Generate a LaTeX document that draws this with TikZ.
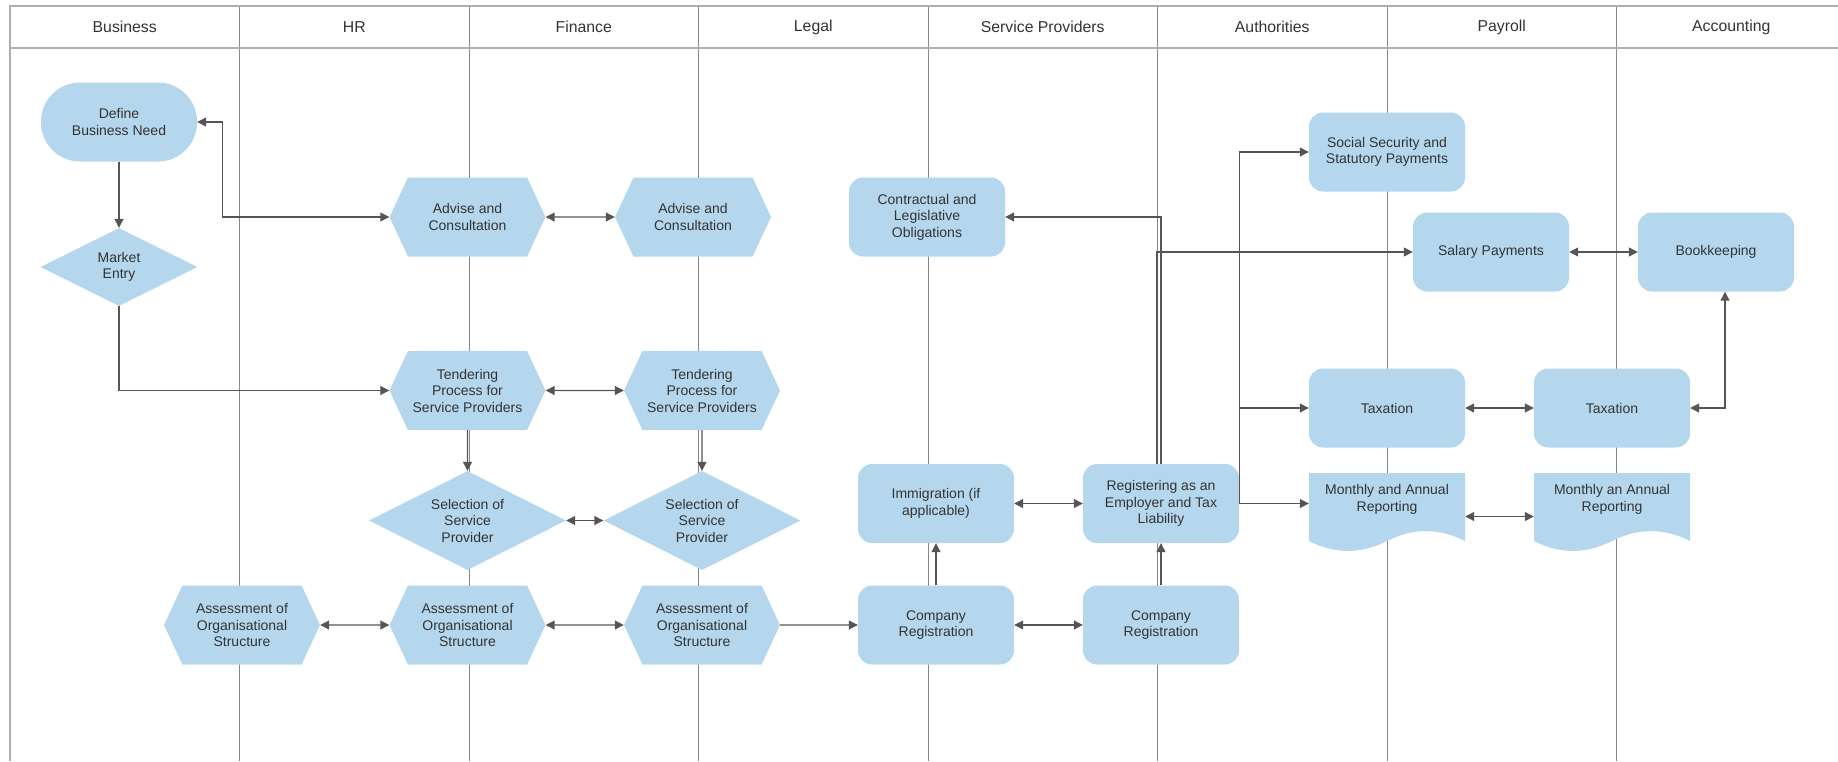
\documentclass[tikz,border=0pt]{standalone}
\usepackage{fontspec}
\setmainfont{Liberation Sans}
\definecolor{laneBlue}{RGB}{181,215,238}
\definecolor{laneText}{RGB}{51,51,51}
\definecolor{laneLine}{RGB}{135,135,135}
\definecolor{laneFrame}{RGB}{175,175,175}
\definecolor{laneArrow}{RGB}{85,85,85}
\usetikzlibrary{arrows.meta,positioning,shapes.geometric,shapes.symbols,calc}
\newcommand{\docsink}{\rule[-29pt]{0pt}{29pt}}

\begin{document}
\begin{tikzpicture}[x=1pt, y=-1pt,
  base/.style={fill=laneBlue, text=laneText, align=center, inner sep=3pt,
               font=\fontsize{14}{16.5}\selectfont},
  rbox/.style={base, rectangle, rounded corners=14pt, minimum width=156pt,
               minimum height=79pt},
  pill/.style={base, rectangle, rounded corners=39pt, minimum width=156pt,
               minimum height=79pt},
  hexa/.style={base, signal, signal to=east and west, signal pointer angle=130,
               minimum width=156pt, minimum height=79pt},
  dia/.style={base, diamond, aspect=2, inner sep=0pt},
  docbox/.style={base, fill=none, rectangle, minimum width=156pt, minimum height=79pt,
    path picture={\fill[laneBlue] (path picture bounding box.north west) -- ++(156,0) -- ++(0,68)
      .. controls +(-26,-13.2) and +(26,-13.2) .. ++(-78,0)
      .. controls +(-26,13.2) and +(26,13.2) .. ++(-78,0) -- cycle;}},
  hdr/.style={text=laneText, font=\fontsize{15.8}{18}\selectfont},
  lane/.style={laneLine, line width=1pt},
  frame/.style={laneFrame, line width=2pt},
  arr/.style={-{Triangle[length=9pt,width=9pt]}, laneArrow, line width=1.1pt},
  dbl/.style={{Triangle[length=9pt,width=9pt]}-{Triangle[length=9pt,width=9pt]},
              laneArrow, line width=1.1pt}
]
  \useasboundingbox (0,0) rectangle (1838,761);

  % swimlanes
  \foreach \i in {1,...,7}
    \draw[lane] ({10+229.5*\i},6) -- ({10+229.5*\i},761);
  \draw[frame] (10,761) -- (10,6) -- (1838,6);
  \draw[frame] (10,47.5) -- (1838,47.5);
  \foreach \lab [count=\i from 0] in {Business,HR,Finance,Legal,Service Providers,
                                       Authorities,Payroll,Accounting}
    \node[hdr] (h\i) at ({10+229.5*(\i+0.5)},27) {\lab};

  % steps
  \node[pill] (def) at (119,122) {Define\\Business Need};
  \node[dia, minimum width=157pt, minimum height=78pt] (mkt) at (119,267) {Market\\Entry};
  \node[hexa] (adv1) at (467.5,217) {Advise and\\Consultation};
  \node[hexa] (adv2) at (693,217) {Advise and\\Consultation};
  \node[rbox] (con) at (927,217) {Contractual and\\Legislative\\Obligations};
  \node[rbox] (soc) at (1387,152) {Social Security and\\Statutory Payments};
  \node[rbox] (sal) at (1491,252) {Salary Payments};
  \node[rbox] (book) at (1716,252) {Bookkeeping};
  \node[hexa] (ten1) at (467.5,390.5) {Tendering\\Process for\\Service Providers};
  \node[hexa] (ten2) at (702,390.5) {Tendering\\Process for\\Service Providers};
  \node[rbox] (tax1) at (1387,408) {Taxation};
  \node[rbox] (tax2) at (1612,408) {Taxation};
  \node[dia, minimum width=197pt, minimum height=99pt] (sel1) at (467.5,520.5)
    {Selection of\\Service\\Provider};
  \node[dia, minimum width=197pt, minimum height=99pt] (sel2) at (702,520.5)
    {Selection of\\Service\\Provider};
  \node[rbox] (imm) at (936,503.5) {Immigration (if\\applicable)};
  \node[rbox] (emp) at (1161,503.5) {Registering as an\\Employer and Tax\\Liability};
  \node[docbox] (mar1) at (1387,512.5) {Monthly and Annual\\Reporting\docsink};
  \node[docbox] (mar2) at (1612,512.5) {Monthly an Annual\\Reporting\docsink};
  \node[hexa] (ass0) at (242,625) {Assessment of\\Organisational\\Structure};
  \node[hexa] (ass1) at (467.5,625) {Assessment of\\Organisational\\Structure};
  \node[hexa] (ass2) at (702,625) {Assessment of\\Organisational\\Structure};
  \node[rbox] (reg1) at (936,625) {Company\\Registration};
  \node[rbox] (reg2) at (1161,625) {Company\\Registration};

  % flows
  \draw[dbl] (def.east) -- ++(25,0) |- (adv1.west);
  \draw[arr] (def) -- (mkt);
  \draw[arr] (mkt.south) |- (ten1.west);
  \draw[dbl] (adv1) -- (adv2);
  \draw[dbl] (ten1) -- (ten2);
  \draw[arr] (ten1) -- (sel1);
  \draw[arr] (ten2) -- (sel2);
  \draw[dbl] (sel1) -- (sel2);
  \draw[dbl] (ass0) -- (ass1);
  \draw[dbl] (ass1) -- (ass2);
  \draw[arr] (ass2) -- (reg1);
  \draw[dbl] (reg1) -- (reg2);
  \draw[arr] (reg1) -- (imm);
  \draw[arr] (reg2) -- (emp);
  \draw[dbl] (imm) -- (emp);
  \draw[arr] (emp.north) |- (con.east);
  \draw[arr] ([xshift=-4pt]emp.north) |- (sal.west);
  \draw[arr] (emp.east) |- (soc.west);
  \draw[arr] (emp.east) |- (tax1.west);
  \draw[arr] (emp.east) -- (emp.east -| mar1.west);
  \draw[dbl] (sal) -- (book);
  \draw[dbl] ([xshift=9pt]book.south) |- (tax2.east);
  \draw[dbl] (tax1) -- (tax2);
  \draw[dbl] ([yshift=-4pt]mar1.east) -- ([yshift=-4pt]mar2.west);
\end{tikzpicture}
\end{document}
